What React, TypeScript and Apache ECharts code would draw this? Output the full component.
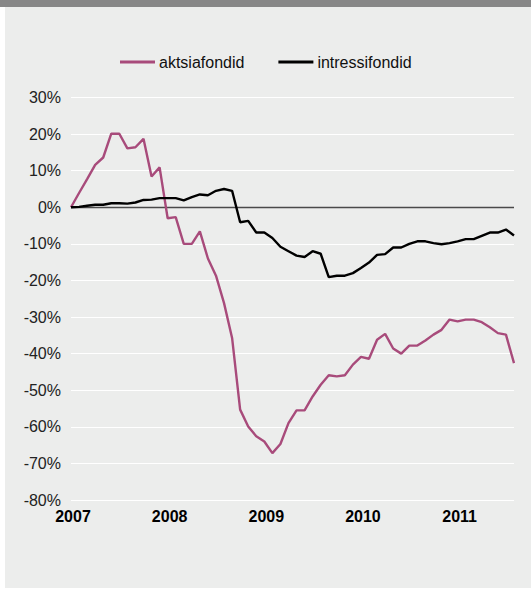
import React, { useEffect, useRef } from "react";
import * as echarts from "echarts";

const months = [
  "2007-01", "2007-02", "2007-03", "2007-04", "2007-05", "2007-06", "2007-07", "2007-08", "2007-09", "2007-10", "2007-11", "2007-12",
  "2008-01", "2008-02", "2008-03", "2008-04", "2008-05", "2008-06", "2008-07", "2008-08", "2008-09", "2008-10", "2008-11", "2008-12",
  "2009-01", "2009-02", "2009-03", "2009-04", "2009-05", "2009-06", "2009-07", "2009-08", "2009-09", "2009-10", "2009-11", "2009-12",
  "2010-01", "2010-02", "2010-03", "2010-04", "2010-05", "2010-06", "2010-07", "2010-08", "2010-09", "2010-10", "2010-11", "2010-12",
  "2011-01", "2011-02", "2011-03", "2011-04", "2011-05", "2011-06", "2011-07", "2011-08",
];

const aktsiafondid = [
  0, 3.9, 7.7, 11.6, 13.6, 20.1, 20.1, 16.1, 16.4, 18.7, 8.4, 10.9,
  -3.0, -2.7, -10, -10, -6.6, -14, -18.7, -26.2, -35.7, -55.3, -59.9, -62.6,
  -64, -67.2, -64.7, -59, -55.5, -55.5, -51.7, -48.5, -45.9, -46.2, -45.9, -43,
  -40.9, -41.4, -36.2, -34.6, -38.6, -40, -37.8, -37.8, -36.4, -34.8, -33.5, -30.7,
  -31.2, -30.7, -30.7, -31.4, -32.8, -34.4, -34.8, -42.6,
];

const intressifondid = [
  0, 0.1, 0.4, 0.7, 0.7, 1.1, 1.1, 1.0, 1.3, 2.0, 2.1, 2.5,
  2.5, 2.5, 1.9, 2.8, 3.5, 3.3, 4.5, 5.0, 4.5, -4.1, -3.7, -6.9,
  -6.9, -8.4, -10.8, -12.0, -13.2, -13.6, -12.0, -12.7, -19.1, -18.7, -18.7, -18.0,
  -16.6, -15.1, -13.0, -12.8, -11.0, -11.0, -10.0, -9.3, -9.3, -9.8, -10.1, -9.8,
  -9.3, -8.7, -8.7, -7.8, -6.9, -6.9, -6.1, -7.7,
];

const seriesNames = ["aktsiafondid", "intressifondid"];
const yMin = -80;
const yMax = 30;
const yStep = 10;

const FONT = "'Liberation Sans', Arial, Helvetica, sans-serif";

export default function App() {
  const ref = useRef<HTMLDivElement>(null);

  useEffect(() => {
    if (!ref.current) return;
    const chart = echarts.init(ref.current, null, { renderer: "svg" });
    chart.setOption({
      animation: false,
      backgroundColor: "#ffffff",
      graphic: [
        { type: "rect", left: 5, top: 0, shape: { width: 526, height: 588 }, style: { fill: "#ecedec" }, z: -10 },
        { type: "rect", left: 0, top: 0, shape: { width: 531, height: 7 }, style: { fill: "#878787" }, z: -9 },
      ],
      legend: {
        left: 115,
        top: 49,
        itemWidth: 35,
        itemHeight: 3,
        itemGap: 34,
        icon: "rect",
        data: seriesNames,
        textStyle: { fontFamily: FONT, fontSize: 16, color: "#111111", padding: [0, 0, 0, -1] },
      },
      grid: { left: 71, right: 17, top: 97.5, bottom: 89, containLabel: false },
      xAxis: {
        type: "category",
        data: months,
        boundaryGap: false,
        axisLine: { show: false },
        axisTick: { show: false },
        splitLine: { show: false },
        axisLabel: {
          interval: (i: number) => i % 12 === 0,
          formatter: (v: string) => v.slice(0, 4),
          fontFamily: FONT,
          fontSize: 16,
          fontWeight: "bold",
          color: "#000000",
          margin: 8,
          padding: [0, 0, 0, 4],
        },
      },
      yAxis: {
        type: "value",
        min: yMin,
        max: yMax,
        interval: yStep,
        axisLine: { show: false },
        axisTick: { show: false },
        splitLine: { show: true, lineStyle: { color: "#ffffff", width: 1.2 } },
        axisLabel: {
          formatter: "{value}%",
          fontFamily: FONT,
          fontSize: 16,
          color: "#222222",
          margin: 10,
        },
      },
      series: [
        {
          name: seriesNames[0],
          type: "line",
          data: aktsiafondid,
          symbol: "none",
          color: "#a84b7b",
          lineStyle: { color: "#a84b7b", width: 2.4 },
          z: 3,
        },
        {
          name: seriesNames[1],
          type: "line",
          data: intressifondid,
          symbol: "none",
          color: "#000000",
          lineStyle: { color: "#000000", width: 2.4 },
          z: 4,
          markLine: {
            silent: true,
            symbol: "none",
            label: { show: false },
            lineStyle: { color: "#4a4a4a", width: 1.3, type: "solid" },
            data: [{ yAxis: 0 }],
            z: 2,
          },
        },
      ],
    });
    return () => chart.dispose();
  }, []);

  return (
    <div
      ref={ref}
      style={{ position: "absolute", left: 0, top: 0, width: 531, height: 589 }}
    />
  );
}
